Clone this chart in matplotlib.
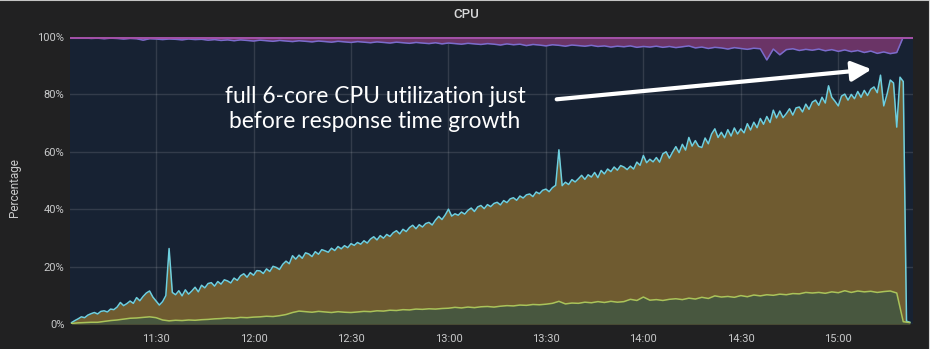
import matplotlib
matplotlib.use("Agg")
import matplotlib.pyplot as plt
import matplotlib.dates as mdates
import pandas as pd

# total busy (user + system), one sample per minute from 11:04
busy_pct = [
    0.5, 1.2, 1.8, 2.5, 2.2, 3.1, 3.6, 4.0, 3.5, 4.4,
    4.6, 4.2, 5.2, 5.0, 5.9, 7.5, 6.4, 7.1, 8.0, 7.2,
    9.2, 8.1, 9.6, 10.8, 11.5, 9.4, 8.0, 6.6, 7.8, 9.9,
    26.3, 11.0, 10.2, 11.6, 9.8, 11.9, 10.4, 11.5, 12.8, 11.2,
    13.5, 12.6, 14.1, 14.4, 13.2, 14.8, 13.9, 15.4, 15.0, 14.3,
    16.0, 15.2, 16.8, 17.5, 16.3, 17.9, 17.0, 18.6, 18.5, 17.6,
    19.2, 18.3, 20.1, 19.7, 19.0, 20.8, 21.9, 21.0, 23.8, 22.6,
    24.0, 22.9, 24.8, 24.4, 23.5, 25.2, 24.3, 25.9, 25.5, 25.0,
    26.4, 25.6, 27.0, 26.2, 27.3, 26.6, 28.0, 27.4, 28.4, 27.8,
    29.0, 28.2, 29.6, 30.4, 29.3, 30.8, 29.9, 31.2, 30.5, 31.8,
    32.5, 31.4, 33.0, 32.2, 33.6, 34.4, 33.2, 34.6, 33.8, 35.0,
    35.4, 34.5, 36.2, 37.5, 36.4, 38.0, 40.0, 37.6, 38.4, 37.9,
    39.0, 38.3, 39.6, 40.4, 39.2, 40.8, 41.3, 40.2, 41.6, 40.9,
    42.0, 42.4, 41.5, 43.0, 42.3, 43.6, 44.0, 43.1, 44.6, 43.9,
    45.0, 45.3, 44.4, 46.0, 45.4, 46.6, 47.0, 46.1, 47.5, 48.3,
    60.7, 48.2, 49.4, 48.6, 50.3, 49.5, 50.6, 51.8, 50.4, 52.0,
    51.2, 52.8, 51.0, 53.5, 52.3, 54.0, 53.1, 54.7, 53.6, 55.2,
    54.7, 53.8, 55.0, 54.0, 56.4, 55.3, 58.7, 56.2, 57.4, 56.5,
    58.0, 56.4, 59.3, 60.0, 57.8, 59.9, 61.8, 59.7, 62.6, 60.6,
    65.0, 62.0, 63.9, 61.9, 61.5, 64.8, 62.8, 66.2, 68.0, 65.0,
    66.8, 64.9, 67.7, 65.5, 68.3, 66.2, 68.0, 66.6, 69.8, 67.6,
    70.3, 68.4, 71.6, 69.6, 72.3, 70.2, 74.5, 71.8, 74.2, 71.9,
    73.3, 75.0, 72.8, 75.3, 75.6, 73.9, 76.6, 74.8, 77.3, 78.0,
    76.2, 79.0, 77.0, 83.0, 79.0, 77.6, 76.0, 79.4, 80.1, 78.0,
    80.0, 78.5, 81.0, 79.0, 81.4, 79.6, 81.8, 82.6, 80.6, 86.7,
    76.0, 80.0, 85.0, 84.0, 68.6, 86.0, 84.5, 1.0, 0.6,
]

# system share, one sample every 2 minutes from 11:04
system_pct = [
    0.2, 0.4, 0.5, 0.6, 0.6, 0.9, 1.2, 1.4, 1.7, 2.0,
    2.1, 2.3, 2.5, 2.2, 1.4, 1.1, 1.3, 1.2, 1.4, 1.3,
    1.5, 1.6, 1.8, 1.9, 2.1, 2.0, 2.3, 2.2, 2.4, 2.5,
    2.7, 2.6, 2.9, 3.3, 4.0, 4.5, 4.3, 4.1, 4.4, 4.2,
    4.0, 4.3, 4.1, 4.0, 4.2, 4.4, 4.3, 4.6, 4.5, 4.8,
    4.7, 5.0, 4.9, 5.2, 5.1, 5.3, 5.2, 5.4, 5.5, 5.8,
    5.6, 5.9, 5.7, 6.0, 6.1, 5.9, 6.2, 6.4, 6.3, 6.6,
    6.5, 6.8, 6.7, 6.9, 7.2, 7.9, 7.0, 7.3, 7.2, 7.6,
    7.4, 7.8, 7.5, 7.9, 7.6, 7.8, 8.6, 8.2, 9.4, 8.3,
    8.5, 8.2, 8.6, 8.8, 8.5, 9.0, 8.7, 9.3, 8.9, 9.8,
    9.4, 9.6, 9.3, 9.9, 9.5, 10.1, 9.8, 10.2, 10.0, 10.4,
    10.2, 10.6, 10.5, 11.0, 10.8, 11.0, 10.7, 11.2, 10.9, 11.6,
    11.0, 11.5, 11.2, 11.4, 11.0, 11.3, 11.5, 10.8, 0.8, 0.5,
]

# lower edge of the top band (filled up to 100%), every 2 minutes from 11:04
top_band_pct = [
    99.7, 99.6, 99.7, 99.5, 99.6, 99.4, 99.6, 99.5, 99.3, 99.5,
    99.4, 98.9, 99.4, 99.3, 99.1, 99.3, 99.2, 99.0, 99.3, 99.1,
    99.2, 98.9, 99.1, 98.8, 99.0, 98.7, 99.0, 98.8, 98.6, 98.9,
    98.7, 98.5, 98.8, 98.6, 98.4, 98.7, 98.5, 98.3, 98.6, 98.4,
    98.2, 98.5, 98.3, 98.1, 98.4, 98.2, 98.0, 98.3, 98.1, 97.9,
    98.2, 98.0, 97.8, 98.1, 97.9, 97.7, 98.0, 97.6, 97.9, 97.7,
    97.5, 97.8, 97.6, 97.4, 97.7, 97.5, 97.2, 97.6, 97.3, 97.5,
    97.0, 97.4, 97.2, 96.9, 97.3, 97.1, 96.8, 97.2, 97.0, 96.8,
    97.1, 96.7, 96.9, 96.5, 96.8, 96.6, 96.9, 96.4, 96.7, 96.5,
    96.8, 96.4, 96.7, 96.3, 96.6, 96.9, 96.2, 96.5, 96.0, 96.4,
    96.2, 95.8, 96.3, 96.0, 95.7, 96.1, 95.9, 92.0, 95.8, 93.8,
    95.6, 95.9, 95.3, 95.7, 95.4, 95.8, 95.2, 95.6, 95.0, 95.5,
    94.9, 95.3, 94.6, 95.1, 94.3, 94.8, 94.2, 94.6, 100.0, 100.0,
]

y_ticks = [0, 20, 40, 60, 80, 100]
y_tick_labels = ["0%", "20%", "40%", "60%", "80%", "100%"]
x_tick_labels = ["11:30", "12:00", "12:30", "13:00", "13:30", "14:00", "14:30", "15:00"]

day = "2019-05-14 "
t_busy = pd.date_range(day + "11:04", periods=len(busy_pct), freq="1min")
t_sys = pd.date_range(day + "11:04", periods=len(system_pct), freq="2min")
t_top = pd.date_range(day + "11:04", periods=len(top_band_pct), freq="2min")

PANEL_BG = "#212122"
PLOT_BG = "#172233"
TEXT_COL = "#c8c9ca"

fig = plt.figure(figsize=(9.3, 3.49), dpi=100, facecolor=PANEL_BG)
ax = fig.add_axes([70 / 930, 1 - 324 / 349, 843 / 930, 287 / 349])
ax.set_facecolor(PLOT_BG)

# stacked look: busy area first, system drawn over it
ax.fill_between(t_busy, 0, busy_pct, color="#6f5b30", lw=0, zorder=2)
ax.plot(t_busy, busy_pct, color="#6ecfdf", lw=1.1, zorder=4)
ax.fill_between(t_sys, 0, system_pct, color="#48573f", lw=0, zorder=3)
ax.plot(t_sys, system_pct, color="#a9c35a", lw=1.1, zorder=4)

ax.fill_between(t_top, top_band_pct, 100, color="#6a3466", lw=0, zorder=2)
ax.plot(t_top, top_band_pct, color="#7a6ccc", lw=1.1, zorder=4)
ax.axhline(100, color="#a150a6", lw=2.2, zorder=5)

ax.set_ylim(0, 100)
ax.set_xlim(pd.Timestamp(day + "11:03:30"), pd.Timestamp(day + "15:23:00"))
ax.set_yticks(y_ticks)
ax.set_yticklabels(y_tick_labels)
ax.set_xticks([pd.Timestamp(day + s) for s in x_tick_labels])
ax.xaxis.set_major_formatter(mdates.DateFormatter("%H:%M"))
ax.tick_params(length=0, colors=TEXT_COL, labelsize=8)
ax.tick_params(axis="x", pad=7)
ax.tick_params(axis="y", pad=4)
for lbl in ax.get_xticklabels() + ax.get_yticklabels():
    lbl.set_family("Roboto")
ax.grid(True, color="white", alpha=0.12, lw=1, zorder=6)
for s in ax.spines.values():
    s.set_visible(False)

fig.text(15 / 930, 1 - 188 / 349, "Percentage", color=TEXT_COL, fontsize=8.5,
         family="Roboto", rotation=90, ha="center", va="center")
fig.text(466 / 930, 1 - 15 / 349, "CPU", color="#d8d9da", fontsize=9.5, family="Roboto",
         weight="medium", ha="center", va="center")

# callout
fig.text(375 / 930, 1 - 109 / 349, "full 6-core CPU utilization just\nbefore response time growth",
         color="white", fontsize=16.4, family="Lato", ha="center", va="center",
         linespacing=1.22, zorder=10)
ax.annotate("", xy=(871.7, 349 - 69.3), xytext=(556.7, 349 - 99.3),
            xycoords="figure pixels", textcoords="figure pixels",
            arrowprops=dict(arrowstyle="-|>,head_length=0.6,head_width=0.3",
                            mutation_scale=20, color="white", lw=3, shrinkA=0, shrinkB=0),
            zorder=10)

# thin screenshot frame lines
fig.add_artist(plt.Line2D([0, 1], [1, 1], transform=fig.transFigure, color="#c4c4c4", lw=1.5))
fig.add_artist(plt.Line2D([1, 1], [0, 1], transform=fig.transFigure, color="#d8d8d8", lw=1.5))

fig.savefig("out.png", dpi=100, facecolor=fig.get_facecolor())
